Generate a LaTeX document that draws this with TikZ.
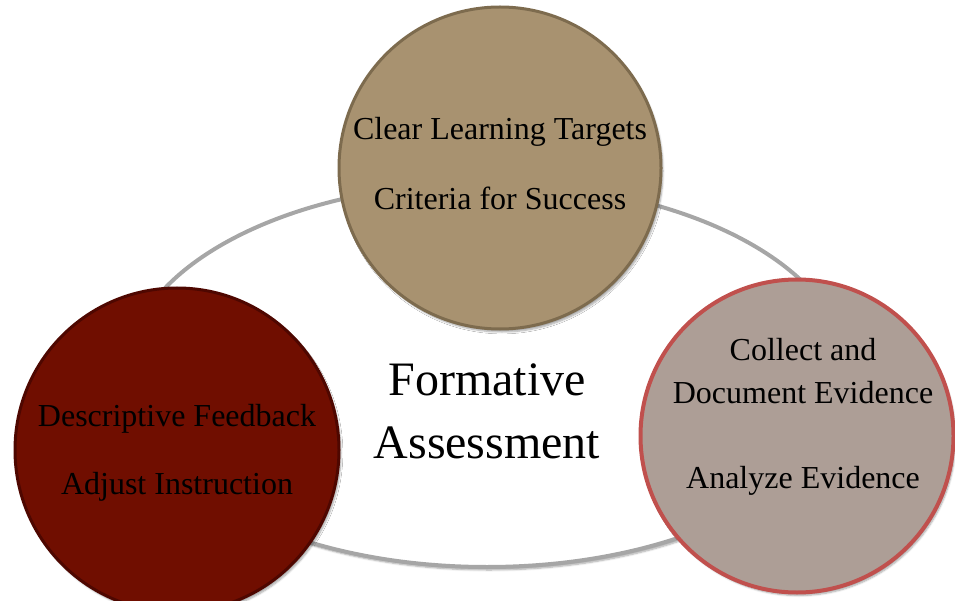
\documentclass[tikz,border=0pt]{standalone}
\usepackage{fontspec}
\setmainfont{Liberation Serif}
\usetikzlibrary{shapes.geometric,shadows.blur}

\definecolor{ringgray}{HTML}{A6A6A6}
\definecolor{tanfill}{HTML}{A89270}
\definecolor{tanedge}{HTML}{7D6B4E}
\definecolor{redfill}{HTML}{700E00}
\definecolor{rededge}{HTML}{4E0700}
\definecolor{greyfill}{HTML}{AD9E96}
\definecolor{greyedge}{HTML}{C0504D}

\begin{document}
\begin{tikzpicture}[x=1pt,y=-1pt,
		soft/.style={blur shadow={shadow xshift=2pt,shadow yshift=-3pt,shadow blur steps=6,shadow opacity=35}},
		stage/.style={circle,minimum size=#1,inner sep=0pt,soft},
		txt/.style={anchor=base,font=\fontsize{32}{38}\selectfont},
	]
	% the ring behind the three stages
	\node[ellipse,draw=ringgray,line width=4pt,fill=white,minimum width=722pt,minimum height=384pt,soft] (ring) at (487,375) {};
	\node[anchor=base,font=\fontsize{48}{56}\selectfont] (fa1) at (487,395) {Formative};
	\node[anchor=base,font=\fontsize{48}{56}\selectfont] (fa2) at (487,458) {Assessment};
	% stages
	\node[stage=322pt,fill=tanfill,draw=tanedge,line width=3pt] (targets) at (500,168) {};
	\node[stage=324pt,fill=redfill,draw=rededge,line width=3pt] (feedback) at (177,450) {};
	\node[stage=313pt,fill=greyfill,draw=greyedge,line width=4pt] (evidence) at (797,436) {};
	\node[txt] (t1) at (500,140) {Clear Learning Targets};
	\node[txt] (t2) at (500,210) {Criteria for Success};
	\node[txt] (f1) at (177,426) {Descriptive Feedback};
	\node[txt] (f2) at (177,494) {Adjust Instruction};
	\node[txt] (e1) at (803,360) {Collect and};
	\node[txt] (e2) at (803,403) {Document Evidence};
	\node[txt] (e3) at (803,488) {Analyze Evidence};
	\pgfresetboundingbox
	\useasboundingbox (0,0) rectangle (955,601);
\end{tikzpicture}
\end{document}
